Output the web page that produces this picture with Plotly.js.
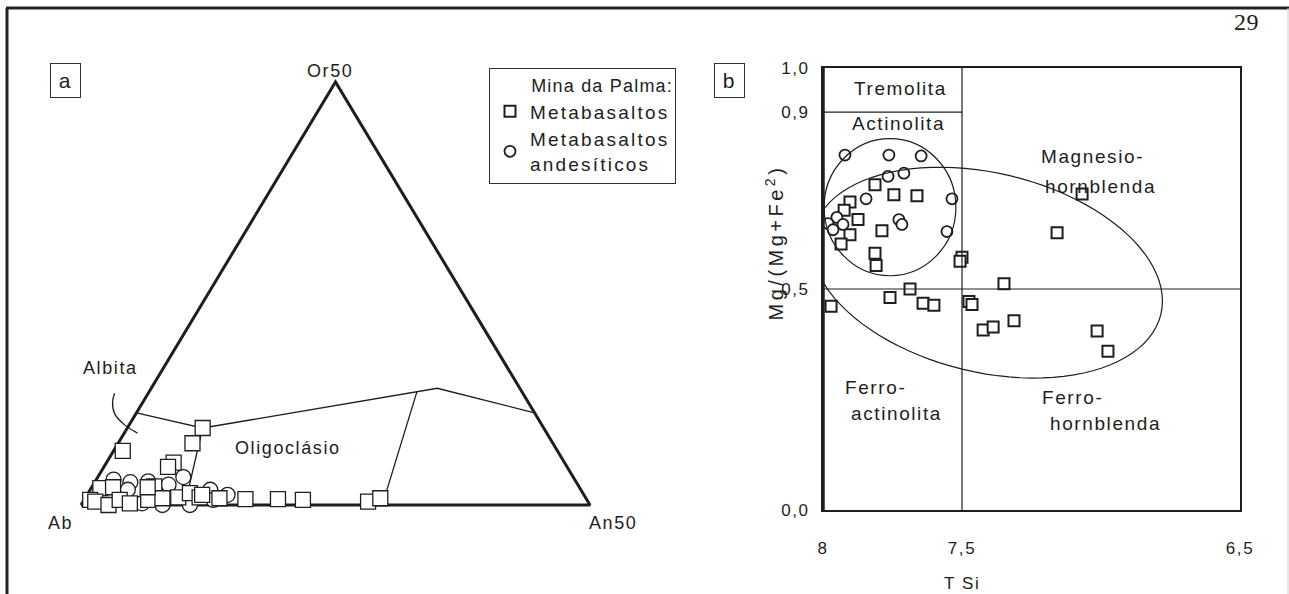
<!DOCTYPE html>
<html><head><meta charset="utf-8">
<script src="https://cdn.plot.ly/plotly-3.0.1.min.js"></script>
<style>
body{margin:0;background:#fff;}
#chart{width:1289px;height:594px;}
svg text{letter-spacing:1.6px;}
svg text.legendtext{letter-spacing:2.2px;}
svg text.legendtitletext{letter-spacing:1.2px;}
g.annotation[data-index="17"] text{letter-spacing:3.5px;}
g.annotation[data-index="2"] text{letter-spacing:0.5px;}
</style>
</head><body><div id="chart"></div>
<script>
// ---------------- Panel a : Ab – An50 – Or50 (mol %) ----------------
const metabasaltosAn = [7.4,7.3,0.9,6.6,6.3,0.9,2.1,6.1,0.6,1.2,2.7,3.5,4.7,6.3,7.6,9.1,10.0,11.2,13.2,15.8,19.0,21.5,28.0,29.0,5.5,11.3];
const metabasaltosOr = [9.1,7.3,6.4,5.0,4.5,2.0,2.1,2.2,0.6,0.4,0.0,0.6,0.2,0.6,0.8,0.9,1.4,0.9,0.8,0.7,0.7,0.6,0.4,0.8,2.1,1.2];
const andesiticosAn = [1.7,3.5,7.4,8.4,11.8,13.8,12.7,10.7,8.0,5.9,3.7,5.2];
const andesiticosOr = [3.0,2.7,2.4,3.3,1.8,1.2,0.6,0.0,0.0,0.2,1.8,2.8];

// field boundaries (An %, Or %)
const triangleAn = [0, 50, 0, 0];
const triangleOr = [0, 0, 50, 0];
const albitaLimitAn = [0, 7.4, 10.2];
const albitaLimitOr = [10.9, 9.1, 0];
const oligoTopAn = [7.4, 26.3, 28.1, 39.1];
const oligoTopOr = [9.1, 13.4, 13.8, 10.9];
const oligoLimitAn = [26.3, 29.3];
const oligoLimitOr = [13.4, 1.2];
const albitaPointerAn = [-3.3, -3.0, -2.1, -0.5, 1.3];
const albitaPointerOr = [13.2, 12.2, 10.8, 9.5, 8.5];

// ---------------- Panel b : T Si vs Mg/(Mg+Fe2) ----------------
const metabasaltosTSi = [7.813,7.745,7.662,7.903,7.924,7.874,7.788,7.903,7.935,7.813,7.809,7.500,7.507,7.971,7.759,7.687,7.640,7.601,7.475,7.464,7.349,7.424,7.388,7.313,7.014,6.975,7.068,7.158];
const metabasaltosMg  = [0.736,0.713,0.711,0.697,0.678,0.657,0.632,0.623,0.602,0.581,0.553,0.572,0.563,0.461,0.481,0.500,0.468,0.463,0.472,0.465,0.512,0.407,0.414,0.428,0.405,0.359,0.715,0.627];
const andesiticosTSi = [7.921,7.763,7.647,7.766,7.709,7.845,7.536,7.950,7.982,7.964,7.928,7.727,7.716,7.554];
const andesiticosMg  = [0.803,0.803,0.801,0.755,0.762,0.704,0.704,0.662,0.648,0.634,0.646,0.657,0.646,0.630];

const xTickVals = [8, 7.5, 6.5];
const xTickText = ['8', '7,5', '6,5'];
const yTickVals = [0, 0.5, 0.9, 1.0];
const yTickText = ['0,0', '0,5', '0,9', '1,0'];

// ---------------- helpers ----------------
const W = 1289, H = 594;
const fx = p => p / W;
const fy = p => (H - p) / H;
const S3 = Math.sqrt(3) / 2;
function proj(an, or) {
  return { x: an.map((a, i) => a / 50 + or[i] / 100), y: or.map(o => o / 50 * S3) };
}
const aX0 = 81, aXs = 509, aY0 = 505, aYs = 423 / S3;
const aDomX = [20, 770], aDomY = [590, 30];

const FONT = 'Liberation Sans, Arial, sans-serif';
const INK = '#1e1e1e';
const traces = [];
function lineTrace(an, or, w, shape) {
  const p = proj(an, or);
  return { type: 'scatter', mode: 'lines', x: p.x, y: p.y, xaxis: 'x2', yaxis: 'y2',
    line: { color: INK, width: w, shape: shape || 'linear', smoothing: 1 }, showlegend: false, hoverinfo: 'skip' };
}
traces.push(lineTrace(triangleAn, triangleOr, 3));
traces.push(lineTrace(albitaLimitAn, albitaLimitOr, 1.3));
traces.push(lineTrace(oligoTopAn, oligoTopOr, 1.3));
traces.push(lineTrace(oligoLimitAn, oligoLimitOr, 1.3));
traces.push(lineTrace(albitaPointerAn, albitaPointerOr, 1.3, 'spline'));
const pm = proj(metabasaltosAn, metabasaltosOr);
const pc = proj(andesiticosAn, andesiticosOr);
traces.push({ type: 'scatter', mode: 'markers', x: pc.x, y: pc.y, xaxis: 'x2', yaxis: 'y2', cliponaxis: false,
  marker: { symbol: 'circle', size: 15, color: '#fff', line: { color: INK, width: 1.3 } }, showlegend: false });
traces.push({ type: 'scatter', mode: 'markers', x: pm.x, y: pm.y, xaxis: 'x2', yaxis: 'y2', cliponaxis: false,
  marker: { symbol: 'square', size: 15, color: '#fff', line: { color: INK, width: 1.3 } }, showlegend: false });

traces.push({ type: 'scatter', mode: 'markers', name: 'Metabasaltos', x: metabasaltosTSi, y: metabasaltosMg, cliponaxis: false,
  marker: { symbol: 'square', size: 11, color: '#fff', line: { color: INK, width: 2 } } });
traces.push({ type: 'scatter', mode: 'markers', name: 'Metabasaltos<br>andesíticos', x: andesiticosTSi, y: andesiticosMg, cliponaxis: false,
  marker: { symbol: 'circle', size: 11, color: '#fff', line: { color: INK, width: 1.8 } } });

// big ellipse (conjugate semi-diameters, data units)
const ellC = [7.410, 0.537], ellU = [-0.626, -0.035], ellV = [0.079, 0.236];
let ellPath = '';
for (let k = 0; k <= 96; k++) {
  const t = k / 96 * 2 * Math.PI;
  const x = ellC[0] + ellU[0] * Math.cos(t) + ellV[0] * Math.sin(t);
  const y = ellC[1] + ellU[1] * Math.cos(t) + ellV[1] * Math.sin(t);
  ellPath += (k === 0 ? 'M' : 'L') + x.toFixed(4) + ',' + y.toFixed(4);
}
ellPath += 'Z';

const shapes = [
  { type: 'line', xref: 'paper', yref: 'paper', x0: fx(6), x1: 1, y0: fy(8), y1: fy(8), line: { color: '#222', width: 3 } },
  { type: 'line', xref: 'paper', yref: 'paper', x0: fx(7), x1: fx(7), y0: fy(8), y1: 0, line: { color: '#222', width: 3 } },
  { type: 'line', xref: 'paper', yref: 'paper', x0: fx(1288), x1: fx(1288), y0: fy(8), y1: 0, line: { color: '#ccc', width: 1 } },
  { type: 'line', xref: 'x', yref: 'y', x0: 8, x1: 6.5, y0: 0.5, y1: 0.5, line: { color: INK, width: 1.2 } },
  { type: 'line', xref: 'x', yref: 'y', x0: 7.5, x1: 7.5, y0: 0, y1: 1, line: { color: INK, width: 1.2 } },
  { type: 'line', xref: 'x', yref: 'y', x0: 8, x1: 7.5, y0: 0.9, y1: 0.9, line: { color: INK, width: 1.2 } },
  { type: 'line', xref: 'x', yref: 'y', x0: 8, x1: 8, y0: 0, y1: 1, line: { color: INK, width: 3.5 } },
  { type: 'circle', xref: 'x', yref: 'y', x0: 7.996, x1: 7.522, y0: 0.530, y1: 0.840, line: { color: INK, width: 1.2 } },
  { type: 'path', xref: 'x', yref: 'y', path: ellPath, line: { color: INK, width: 1.2 } }
];

function ann(text, x, y, size, extra) {
  return Object.assign({ text: text, xref: 'paper', yref: 'paper', x: fx(x), y: fy(y), xanchor: 'center', yanchor: 'middle',
    showarrow: false, font: { family: FONT, size: size, color: INK } }, extra || {});
}
const annotations = [
  ann('a', 65, 80, 21, { bordercolor: '#333', borderwidth: 1, width: 25, height: 29, borderpad: 2 }),
  ann('b', 729, 80, 21, { bordercolor: '#333', borderwidth: 1, width: 25, height: 29, borderpad: 2 }),
  ann('29', 1246, 22, 24, { font: { family: 'Liberation Serif, Times New Roman, serif', size: 24, color: INK } }),
  ann('Or50', 330, 71, 18),
  ann('Ab', 60, 523, 18),
  ann('An50', 613, 523, 18),
  ann('Albita', 110, 368, 18),
  ann('Oligoclásio', 288, 448, 18),
  ann('Tremolita', 900, 88, 19),
  ann('Actinolita', 898, 123, 19),
  ann('Magnesio-', 1092, 156, 19),
  ann('hornblenda', 1100, 186, 19),
  ann('Ferro-', 875, 387, 19),
  ann('actinolita', 896, 413, 19),
  ann('Ferro-', 1072, 397, 19),
  ann('hornblenda', 1105, 423, 19),
  ann('T Si', 962, 583, 17),
  ann('Mg/(Mg+Fe<sup>2</sup>)', 775, 243, 20, { textangle: -90 })
];

const layout = {
  width: W, height: H, margin: { l: 0, r: 0, t: 0, b: 0 },
  paper_bgcolor: '#fff', plot_bgcolor: 'rgba(0,0,0,0)',
  font: { family: FONT, size: 17, color: INK },
  showlegend: true,
  legend: { x: fx(489), y: fy(68), xanchor: 'left', yanchor: 'top', bgcolor: '#fff',
    bordercolor: '#333', borderwidth: 1, font: { family: FONT, size: 19, color: INK },
    title: { text: 'Mina da Palma:', side: 'top right', font: { family: FONT, size: 18, color: INK } },
    tracegroupgap: 3, itemwidth: 30 },
  xaxis: { domain: [fx(823), fx(1240)], range: [8, 6.5], showgrid: false, zeroline: false,
    showline: true, mirror: true, linecolor: INK, linewidth: 2, ticks: '',
    tickvals: xTickVals, ticktext: xTickText, ticklabelstandoff: 22, tickfont: { family: FONT, size: 17, color: INK } },
  yaxis: { domain: [fy(510), fy(68)], range: [0, 1], showgrid: false, zeroline: false,
    showline: true, mirror: true, linecolor: INK, linewidth: 2, ticks: '',
    tickvals: yTickVals, ticktext: yTickText, ticklabelstandoff: 8, tickfont: { family: FONT, size: 17, color: INK } },
  xaxis2: { domain: [fx(aDomX[0]), fx(aDomX[1])], range: [(aDomX[0] - aX0) / aXs, (aDomX[1] - aX0) / aXs],
    visible: false, anchor: 'y2' },
  yaxis2: { domain: [fy(aDomY[0]), fy(aDomY[1])], range: [(aY0 - aDomY[0]) / aYs, (aY0 - aDomY[1]) / aYs],
    visible: false, anchor: 'x2' },
  shapes: shapes,
  annotations: annotations
};

Plotly.newPlot('chart', traces, layout, { displayModeBar: false, staticPlot: true });
</script>
</body></html>
